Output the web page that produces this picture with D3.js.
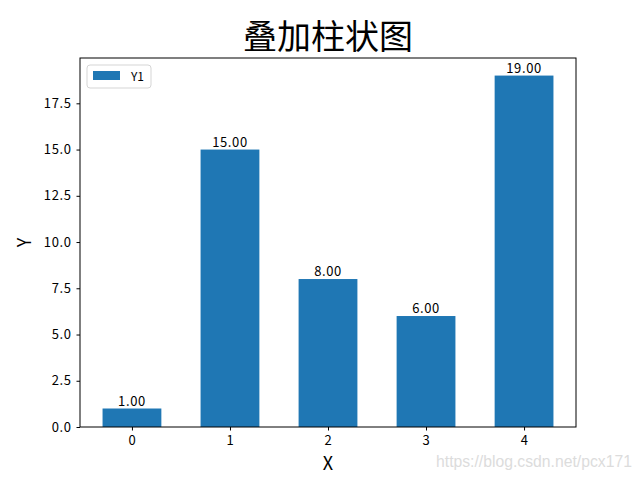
<!DOCTYPE html>
<html>
<head>
<meta charset="utf-8">
<script src="https://cdn.jsdelivr.net/npm/d3@7"></script>
<style>
  body { margin: 0; background: #fff; }
  svg { display: block; }
  text { font-family: "Noto Sans CJK SC", "DejaVu Sans", sans-serif; }
</style>
</head>
<body>
<svg id="chart"></svg>
<script>
const categories = [0, 1, 2, 3, 4];
const y1Values = [1, 15, 8, 6, 19];
const yTicks = [0, 2.5, 5, 7.5, 10, 12.5, 15, 17.5];

const width = 640;
const height = 480;
const margin = { top: 58, right: 64, bottom: 53, left: 80 };
const innerWidth = width - margin.left - margin.right;
const innerHeight = height - margin.top - margin.bottom;
const barColor = "#1f77b4";
const barWidth = 0.6;

const svg = d3.select("#chart").attr("width", width).attr("height", height);

const chartArea = svg.append("g").attr("transform", `translate(${margin.left},${margin.top})`);

// Scales (matplotlib-style margins)
const xPad = 0.05 * (categories.length - 1 + barWidth);
const xScale = d3
  .scaleLinear()
  .domain([categories[0] - barWidth / 2 - xPad, categories[categories.length - 1] + barWidth / 2 + xPad])
  .range([0, innerWidth]);

const yScale = d3
  .scaleLinear()
  .domain([0, d3.max(y1Values) * 1.05])
  .range([innerHeight, 0]);

// Bars
chartArea
  .selectAll(".bar")
  .data(categories)
  .enter()
  .append("rect")
  .attr("class", "bar")
  .attr("x", (d) => xScale(d - barWidth / 2))
  .attr("y", (d, i) => yScale(y1Values[i]))
  .attr("width", (d) => xScale(d + barWidth / 2) - xScale(d - barWidth / 2))
  .attr("height", (d, i) => yScale(0) - yScale(y1Values[i]))
  .attr("fill", barColor);

// Value labels
chartArea
  .selectAll(".val")
  .data(categories)
  .enter()
  .append("text")
  .attr("class", "val")
  .attr("x", (d) => xScale(d))
  .attr("y", (d, i) => yScale(y1Values[i]) - 3)
  .attr("text-anchor", "middle")
  .style("font-size", "13px")
  .style("letter-spacing", "0.6px")
  .style("fill", "#000")
  .text((d, i) => d3.format(".2f")(y1Values[i]));

// Axes
const xAxis = chartArea
  .append("g")
  .attr("transform", `translate(0,${innerHeight})`)
  .call(d3.axisBottom(xScale).tickValues(categories).tickFormat(d3.format("d")).tickSize(3.5).tickPadding(5));

const yAxis = chartArea
  .append("g")
  .call(d3.axisLeft(yScale).tickValues(yTicks).tickFormat(d3.format(".1f")).tickSize(3.5).tickPadding(5));

[xAxis, yAxis].forEach((ax) => {
  ax.select(".domain").remove();
  ax.selectAll("line").attr("stroke", "#000");
  ax.selectAll("text")
    .style("font-size", "13px")
    .style("letter-spacing", "0.6px")
    .style("fill", "#000")
    .style("font-family", '"Noto Sans CJK SC", "DejaVu Sans", sans-serif');
});

// Frame
chartArea
  .append("rect")
  .attr("width", innerWidth)
  .attr("height", innerHeight)
  .attr("fill", "none")
  .attr("stroke", "#000")
  .attr("stroke-width", 1);

// Legend
const legend = chartArea.append("g").attr("transform", "translate(7,7)");
legend
  .append("rect")
  .attr("width", 64)
  .attr("height", 23)
  .attr("rx", 3)
  .attr("fill", "#fff")
  .attr("stroke", "#d5d5d5");
legend.append("rect").attr("x", 6).attr("y", 6).attr("width", 27).attr("height", 9).attr("fill", barColor);
legend
  .append("text")
  .attr("x", 44)
  .attr("y", 15.5)
  .style("font-size", "12px")
  .style("fill", "#000")
  .text("Y1");

// Title
svg
  .append("text")
  .attr("text-anchor", "middle")
  .attr("x", margin.left + innerWidth / 2)
  .attr("y", 49)
  .style("font-size", "34px")
  .style("fill", "#000")
  .text("叠加柱状图");

// X-axis label
svg
  .append("text")
  .attr("text-anchor", "middle")
  .attr("x", margin.left + innerWidth / 2)
  .attr("y", 470)
  .style("font-size", "18px")
  .style("fill", "#000")
  .text("X");

// Y-axis label
svg
  .append("text")
  .attr("text-anchor", "middle")
  .attr("transform", "rotate(-90)")
  .attr("x", -(margin.top + innerHeight / 2))
  .attr("y", 31)
  .style("font-size", "18px")
  .style("fill", "#000")
  .text("Y");

// Watermark
svg
  .append("text")
  .attr("x", 436)
  .attr("y", 467)
  .attr("textLength", 196)
  .attr("lengthAdjust", "spacingAndGlyphs")
  .style("font-size", "16px")
  .style("font-family", "Liberation Sans, Arial, sans-serif")
  .style("fill", "#dcdcdc")
  .text("https://blog.csdn.net/pcx171");
</script>
</body>
</html>
